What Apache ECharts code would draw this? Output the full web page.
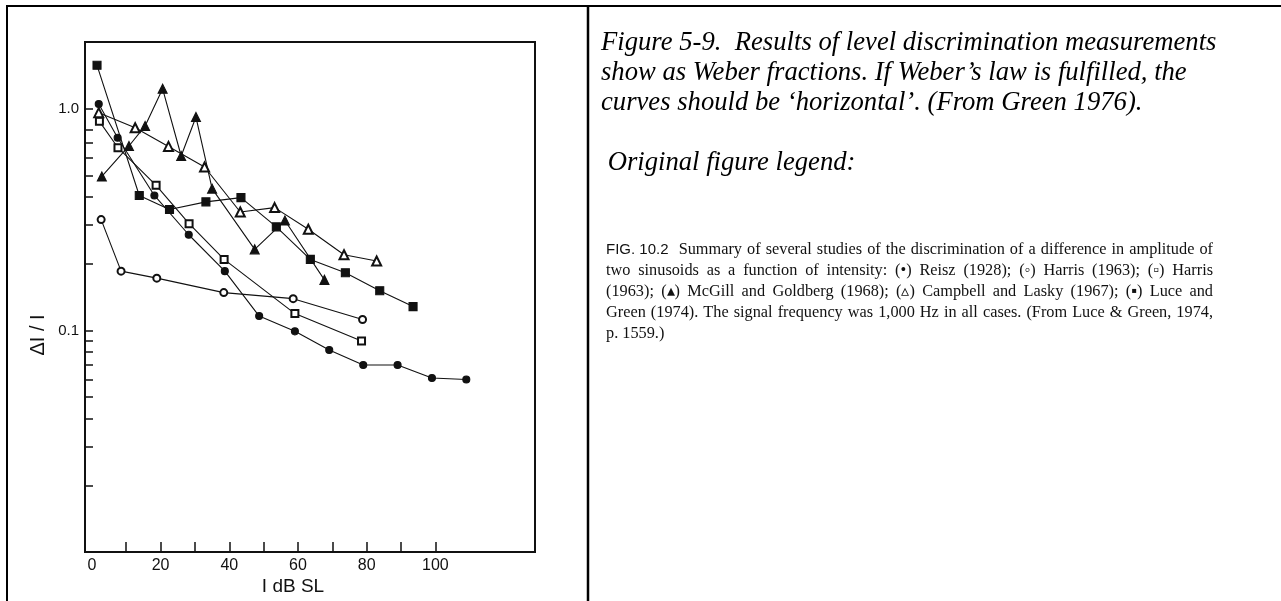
<!DOCTYPE html>
<html><head><meta charset="utf-8">
<script src="https://cdn.jsdelivr.net/npm/echarts@6/dist/echarts.min.js"></script>
<style>html,body{margin:0;padding:0;background:#fff}#c{width:1281px;height:601px}</style>
</head><body><div id="c"></div>
<script>
// ---- data (x: I dB SL, y: ΔI/I) ----
// Reisz (1928) — filled circles
const reiszX = [2.0, 7.5, 18.2, 28.2, 38.7, 48.7, 59.1, 69.1, 79.0, 89.0, 99.0, 109.0];
const reiszY = [1.05, 0.74, 0.406, 0.27, 0.185, 0.116, 0.099, 0.0816, 0.0698, 0.0698, 0.061, 0.060];
// Harris (1963) — open circles
const harrisCircX = [2.7, 8.5, 18.9, 38.4, 58.6, 78.8];
const harrisCircY = [0.316, 0.185, 0.172, 0.148, 0.139, 0.112];
// Harris (1963) — open squares
const harrisSqX = [2.2, 7.6, 18.7, 28.3, 38.5, 59.1, 78.5];
const harrisSqY = [0.877, 0.667, 0.451, 0.303, 0.209, 0.119, 0.0896];
// McGill and Goldberg (1968) — filled triangles
const mcgillX = [2.9, 10.8, 15.5, 20.6, 26.0, 30.3, 35.0, 47.4, 56.2, 67.7];
const mcgillY = [0.495, 0.679, 0.836, 1.23, 0.612, 0.917, 0.436, 0.232, 0.313, 0.169];
// Campbell and Lasky (1967) — open triangles
const campbellX = [2.0, 12.6, 22.3, 32.8, 43.2, 53.2, 63.0, 73.4, 82.9];
const campbellY = [0.96, 0.821, 0.676, 0.546, 0.342, 0.358, 0.286, 0.2195, 0.2056];
// Luce and Green (1974) — filled squares
const luceX = [1.5, 13.8, 22.6, 33.2, 43.4, 53.7, 63.6, 73.8, 83.8, 93.5];
const luceY = [1.57, 0.406, 0.351, 0.38, 0.397, 0.293, 0.209, 0.182, 0.151, 0.128];

// ---- axis ticks / labels ----
const xTickValues = [10, 20, 30, 40, 50, 60, 70, 80, 90, 100];
const xLabelValues = [0, 20, 40, 60, 80, 100];
const yTickValues = [0.02, 0.03, 0.04, 0.05, 0.06, 0.07, 0.08, 0.09, 0.1, 0.2, 0.3, 0.4, 0.5, 0.6, 0.7, 0.8, 1];
const yLabelValues = [0.1, 1];
const yLabelText = {'0.1': '0.1', '1': '1.0'};

// ---- caption text ----
const captionLines = [
  'Figure 5-9.  Results of level discrimination measurements',
  'show as Weber fractions. If Weber\u2019s law is fulfilled, the',
  'curves should be \u2018horizontal\u2019. (From Green 1976).'
];
const legendHead = ' Original figure legend:';
const legendLabel = 'FIG. 10.2';
const legendLines = [
  'Summary of several studies of the discrimination of a difference in amplitude of',
  'two sinusoids as a function of intensity: (\u2022) Reisz (1928); (\u25e6) Harris (1963); (\u25ab) Harris',
  '(1963); (\u25b4) McGill and Goldberg (1968); (\u25b5) Campbell and Lasky (1967); (\u25aa) Luce and',
  'Green (1974). The signal frequency was 1,000 Hz in all cases. (From Luce & Green, 1974,',
  'p. 1559.)'
];

function zip(xs, ys) { return xs.map((x, i) => [x, ys[i]]); }
const INK = '#111';
function mkSeries(name, xs, ys, symbol, size) {
  return {
    name, type: 'line', data: zip(xs, ys), symbol, symbolSize: size,
    showAllSymbol: true,
    lineStyle: { color: INK, width: 1.1 },
    itemStyle: { color: INK, borderColor: INK, borderWidth: 1.1 },
    emphasis: { disabled: true }, silent: true, z: 3
  };
}

const chart = echarts.init(document.getElementById('c'), null, { renderer: 'canvas' });
const serif = '"Liberation Serif", "Times New Roman", serif';
const sans = '"Liberation Sans", Arial, sans-serif';

const graphics = [
  { type: 'line', shape: { x1: 6, y1: 6, x2: 1281, y2: 6 }, style: { stroke: '#000', lineWidth: 2 } },
  { type: 'line', shape: { x1: 7, y1: 5, x2: 7, y2: 601 }, style: { stroke: '#000', lineWidth: 2 } },
  { type: 'line', shape: { x1: 588, y1: 5, x2: 588, y2: 601 }, style: { stroke: '#000', lineWidth: 2.5 } },
  { type: 'text', x: 38, y: 335, rotation: Math.PI / 2,
    style: { text: '\u0394I / I', font: '20px ' + sans, fill: INK, align: 'center', verticalAlign: 'middle' } },
  { type: 'text', x: 293, y: 587,
    style: { text: 'I dB SL', font: '19px ' + sans, fill: INK, align: 'center', verticalAlign: 'middle' } }
];
const capFont = 'italic 26.67px ' + serif;
const capY = [43, 73, 103];
captionLines.forEach((t, i) => graphics.push({ type: 'text', x: 601, y: capY[i],
  style: { text: t, font: capFont, fill: '#000', verticalAlign: 'middle' } }));
graphics.push({ type: 'text', x: 601, y: 163,
  style: { text: legendHead, font: capFont, fill: '#000', verticalAlign: 'middle' } });

// justified scanned legend paragraph
const legFont = '16.3px ' + serif;
const legLabelFont = '15px ' + sans;
const legX0 = 606, legWidth = 607;
const legY = [249.6, 270.9, 292.2, 312.5, 333.5];
const mctx = document.createElement('canvas').getContext('2d');
function tw(s, f) { mctx.font = f; return mctx.measureText(s).width; }
legendLines.forEach((line, li) => {
  const words = line.split(' ');
  const tokens = words.map(w => ({ t: w, f: legFont }));
  const gapW = tokens.map(() => 1);
  if (li === 0) { tokens.unshift({ t: legendLabel, f: legLabelFont }); gapW.unshift(1); gapW[1] = 2; }
  const last = li === legendLines.length - 1;
  if (last) {
    graphics.push({ type: 'text', x: legX0, y: legY[li], style: { text: line, font: legFont, fill: '#111', verticalAlign: 'middle' } });
    return;
  }
  const widths = tokens.map(o => tw(o.t, o.f));
  const total = widths.reduce((a, b) => a + b, 0);
  const gapUnits = gapW.slice(1).reduce((a, b) => a + b, 0);
  const unit = (legWidth - total) / gapUnits;
  let x = legX0;
  tokens.forEach((o, k) => {
    if (k > 0) x += unit * gapW[k];
    graphics.push({ type: 'text', x, y: legY[li], style: { text: o.t, font: o.f, fill: '#111', verticalAlign: 'middle' } });
    x += widths[k];
  });
});

chart.setOption({
  animation: false,
  backgroundColor: '#fff',
  grid: { left: 85, top: 42, width: 450, height: 510, show: true, borderColor: INK, borderWidth: 2, backgroundColor: 'transparent' },
  xAxis: {
    type: 'value', min: -2, max: 129,
    splitLine: { show: false },
    axisLine: { show: true, onZero: false, lineStyle: { color: INK, width: 2 } },
    axisTick: { show: true, inside: true, length: 10, customValues: xTickValues, lineStyle: { color: INK, width: 1.5 } },
    axisLabel: { customValues: xLabelValues, fontSize: 16, color: INK, margin: 6, fontFamily: sans }
  },
  yAxis: {
    type: 'log', logBase: 10, min: 0.01, max: 2,
    splitLine: { show: false },
    axisLine: { show: true, onZero: false, lineStyle: { color: INK, width: 2 } },
    axisTick: { show: true, inside: true, length: 8, customValues: yTickValues, lineStyle: { color: INK, width: 1.5 } },
    axisLabel: { customValues: yLabelValues, fontSize: 15, color: INK, margin: 6, fontFamily: sans,
      formatter: v => yLabelText[String(+v.toPrecision(3))] || '' }
  },
  graphic: graphics,
  series: [
    mkSeries('Reisz (1928)', reiszX, reiszY, 'circle', 7),
    mkSeries('Harris (1963) circles', harrisCircX, harrisCircY, 'emptyCircle', 7),
    mkSeries('Harris (1963) squares', harrisSqX, harrisSqY, 'emptyRect', 7),
    mkSeries('McGill and Goldberg (1968)', mcgillX, mcgillY, 'triangle', 9),
    mkSeries('Campbell and Lasky (1967)', campbellX, campbellY, 'emptyTriangle', 9),
    mkSeries('Luce and Green (1974)', luceX, luceY, 'rect', 8)
  ]
});
</script></body></html>
